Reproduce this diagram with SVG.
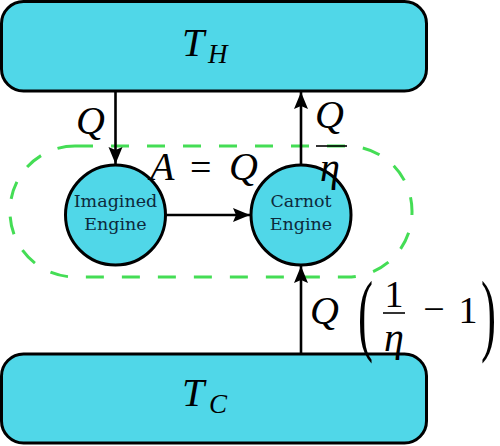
<svg xmlns="http://www.w3.org/2000/svg" width="500" height="446" viewBox="0 0 500 446">
<style>
.res{fill:#50d7e8;stroke:#000;stroke-width:3}
.eng{fill:#50d7e8;stroke:#000;stroke-width:3}
.lbl{font-family:"DejaVu Serif",serif;font-size:17.5px;fill:#0d2a3c;text-anchor:middle}
.m{font-family:"Liberation Serif","DejaVu Serif",serif;font-style:italic;font-size:40px;fill:#000}
.u{font-family:"Liberation Serif","DejaVu Serif",serif;font-size:38px;fill:#000}
.sub{font-family:"Liberation Serif","DejaVu Serif",serif;font-style:italic;font-size:27px;fill:#000}
.edge{stroke:#000;stroke-width:2.6;fill:none}
.bar{stroke:#000;stroke-width:1.6}
</style>
<defs>
<marker id="ah" markerUnits="userSpaceOnUse" markerWidth="18" markerHeight="16" refX="17" refY="7" orient="auto">
<path d="M0,0 L17,7 L0,14 L3,7 z" fill="#000"/>
</marker>
</defs>
<g id="TH"><rect class="res" x="1.5" y="1.5" width="425" height="89.5" rx="22"/>
<text class="m" x="182" y="56">T</text><text class="sub" x="208" y="63">H</text></g>
<g id="TC"><rect class="res" x="1.5" y="354" width="425" height="89" rx="22"/>
<text class="m" x="182" y="406">T</text><text class="sub" x="209" y="413">C</text></g>
<g id="boundary"><rect x="10" y="146" width="402" height="131" rx="65" ry="65" fill="none" stroke="#44dd55" stroke-width="3" stroke-dasharray="18 18"/></g>
<g id="imagined"><circle class="eng" cx="115.5" cy="215" r="50"/>
<text class="lbl" x="115.5" y="207">Imagined</text><text class="lbl" x="115.5" y="230">Engine</text></g>
<g id="carnot"><circle class="eng" cx="301" cy="215" r="50"/>
<text class="lbl" x="301" y="207">Carnot</text><text class="lbl" x="301" y="230">Engine</text></g>
<g id="connectors">
<line class="edge" x1="115.5" y1="91" x2="115.5" y2="164" marker-end="url(#ah)"/>
<line class="edge" x1="166" y1="215" x2="250" y2="215" marker-end="url(#ah)"/>
<line class="edge" x1="301" y1="165" x2="301" y2="92" marker-end="url(#ah)"/>
<line class="edge" x1="301" y1="353" x2="301" y2="266" marker-end="url(#ah)"/>
</g>
<g id="labels">
<text class="m" x="76" y="134">Q</text>
<text class="m" x="150" y="180">A</text><text class="u" x="190" y="180">=</text><text class="m" x="229" y="180">Q</text>
<text class="m" x="315" y="128">Q</text><line class="bar" x1="316" y1="146" x2="347" y2="146"/><text class="m" x="320" y="181">η</text>
<text class="m" x="310" y="324">Q</text>
<text class="u" transform="translate(358,344) scale(0.5,1)" style="font-size:90px">(</text>
<text class="u" x="394" y="307" text-anchor="middle">1</text>
<line class="bar" x1="383" y1="313" x2="405" y2="313"/>
<text class="m" x="394" y="351" text-anchor="middle">η</text>
<text class="u" x="434" y="322" text-anchor="middle">−</text>
<text class="u" x="468" y="323" text-anchor="middle">1</text>
<text class="u" transform="translate(481,344) scale(0.5,1)" style="font-size:90px">)</text>
</g>
</svg>
